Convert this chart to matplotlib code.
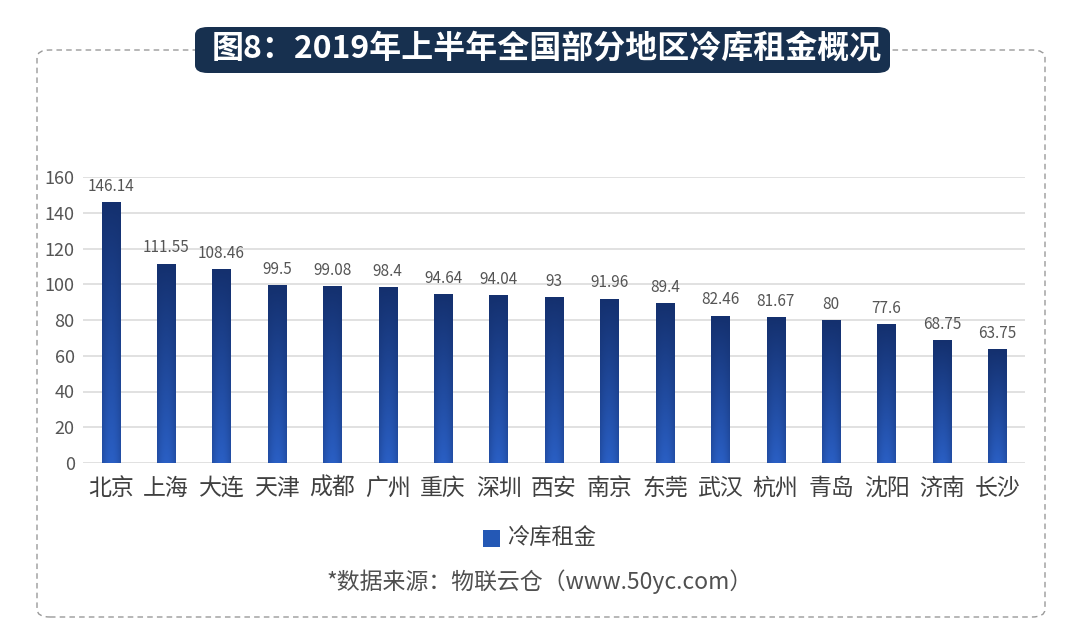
import matplotlib.pyplot as plt
import numpy as np
from matplotlib.colors import LinearSegmentedColormap
from matplotlib.patches import FancyBboxPatch, Rectangle

plt.rcParams["font.family"] = ["Noto Sans CJK SC", "DejaVu Sans"]

cities = ["北京", "上海", "大连", "天津", "成都", "广州", "重庆", "深圳", "西安",
          "南京", "东莞", "武汉", "杭州", "青岛", "沈阳", "济南", "长沙"]
rents = [146.14, 111.55, 108.46, 99.5, 99.08, 98.4, 94.64, 94.04, 93,
         91.96, 89.4, 82.46, 81.67, 80, 77.6, 68.75, 63.75]
rent_labels = ["146.14", "111.55", "108.46", "99.5", "99.08", "98.4", "94.64",
               "94.04", "93", "91.96", "89.4", "82.46", "81.67", "80", "77.6",
               "68.75", "63.75"]
yticks = [0, 20, 40, 60, 80, 100, 120, 140, 160]

title = "图8：2019年上半年全国部分地区冷库租金概况"
legend_label = "冷库租金"
source = "*数据来源：物联云仓（www.50yc.com）"

TEXT = "#404040"
GRID = "#dcdcdc"

fig = plt.figure(figsize=(10.8, 6.43), dpi=100)
fig.patch.set_facecolor("white")

# dashed outer frame
frame = FancyBboxPatch((37 / 1080, 1 - 617 / 643), (1045 - 37) / 1080, (617 - 50) / 643,
                       boxstyle="round,pad=0,rounding_size=0.012",
                       transform=fig.transFigure, fill=False,
                       edgecolor="#9a9a9a", linestyle=(0, (4, 3)), linewidth=1.0)
fig.patches.append(frame)

# title banner
banner = FancyBboxPatch((195 / 1080, 1 - 73 / 643), (890 - 195) / 1080, (73 - 27) / 643,
                        boxstyle="round,pad=0,rounding_size=0.012",
                        transform=fig.transFigure, facecolor="#17304f",
                        edgecolor="none")
fig.patches.append(banner)
fig.text(547 / 1080, 1 - 50 / 643, title, color="white", fontsize=23,
         fontweight="semibold", ha="center", va="center")

ax = fig.add_axes([83 / 1080, 1 - 463 / 643, (1025 - 83) / 1080, (463 - 177) / 643])
x = np.arange(len(cities))
width = 0.33
ax.set_xlim(-0.5, len(cities) - 0.5)
ax.set_ylim(0, 160)

# dark navy at the top, brighter blue at the base, darker along the edges
bar_cmap = LinearSegmentedColormap.from_list("bar", ["#14306e", "#2a5fc4"])
grad = np.linspace(1, 0, 256).reshape(-1, 1)
edge = 1 - 0.35 * np.abs(np.linspace(-1, 1, 32)) ** 2
img = grad * edge.reshape(1, -1)

bars = ax.bar(x, rents, width=width, color="#2458b5", zorder=2)
for b in bars:
    b.set_facecolor("none")
    x0, y0 = b.get_x(), b.get_y()
    w, h = b.get_width(), b.get_height()
    im = ax.imshow(img, cmap=bar_cmap, extent=(x0, x0 + w, y0, y0 + h),
                   origin="lower", aspect="auto", zorder=2, vmin=0, vmax=1)
    im.set_clip_path(b)

for xi, v, lab in zip(x, rents, rent_labels):
    ax.text(xi, v + 4, lab, ha="center", va="bottom", fontsize=11, color="#555555")

ax.set_yticks(yticks)
ax.set_xticks(x)
ax.set_xticklabels(cities, fontsize=16.5, color=TEXT)
ax.tick_params(axis="y", labelsize=13, colors="#555555", length=0, pad=6)
ax.tick_params(axis="x", length=0, pad=10)
ax.grid(axis="y", color=GRID, linewidth=1.2, zorder=0)
ax.set_axisbelow(True)
for s in ax.spines.values():
    s.set_visible(False)

# legend
fig.patches.append(Rectangle((483 / 1080, 1 - 547 / 643), 17 / 1080, 17 / 643,
                             transform=fig.transFigure, facecolor="#2458b5",
                             edgecolor="none"))
fig.text(507 / 1080, 1 - 538 / 643, legend_label, fontsize=16, color=TEXT,
         ha="left", va="center")

fig.text(540 / 1080, 1 - 582 / 643, source, fontsize=16.5, color="#505050",
         ha="center", va="center")

fig.savefig("out.png", dpi=100, facecolor="white")
